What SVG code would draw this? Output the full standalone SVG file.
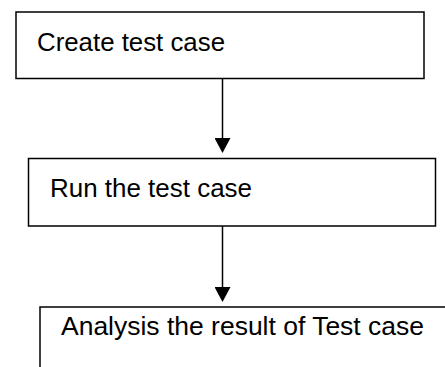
<svg xmlns="http://www.w3.org/2000/svg" width="445" height="367" viewBox="0 0 445 367">
  <style>
    .box { fill: #ffffff; stroke: #000000; stroke-width: 1.5; }
    .lbl { font-family: "Liberation Sans", Arial, sans-serif; font-size: 26px; fill: #000000; }
    .conn { stroke: #000000; stroke-width: 1.5; fill: none; }
  </style>
  <defs>
    <marker id="arrow" markerUnits="userSpaceOnUse" markerWidth="15" markerHeight="16" viewBox="0 0 15 16" refX="8" refY="8" orient="auto">
      <path d="M0,0 L15,8 L0,16 Z" fill="#000000"/>
    </marker>
  </defs>
  <rect width="445" height="367" fill="#ffffff"/>
  <g id="node-create">
    <rect class="box" x="16" y="12" width="408" height="66.5"/>
    <text class="lbl" x="37" y="51" textLength="188" lengthAdjust="spacingAndGlyphs">Create test case</text>
  </g>
  <g id="node-run">
    <rect class="box" x="28.5" y="158.5" width="407" height="67.5"/>
    <text class="lbl" x="50" y="196.5" textLength="202" lengthAdjust="spacingAndGlyphs">Run the test case</text>
  </g>
  <g id="node-analysis">
    <rect class="box" x="40" y="307" width="430" height="90"/>
    <text class="lbl" x="61" y="334.5" textLength="363" lengthAdjust="spacingAndGlyphs">Analysis the result of Test case</text>
  </g>
  <g id="connectors">
    <line class="conn" x1="222.5" y1="78.5" x2="222.5" y2="146" marker-end="url(#arrow)"/>
    <line class="conn" x1="222.5" y1="226" x2="222.5" y2="295" marker-end="url(#arrow)"/>
  </g>
</svg>
